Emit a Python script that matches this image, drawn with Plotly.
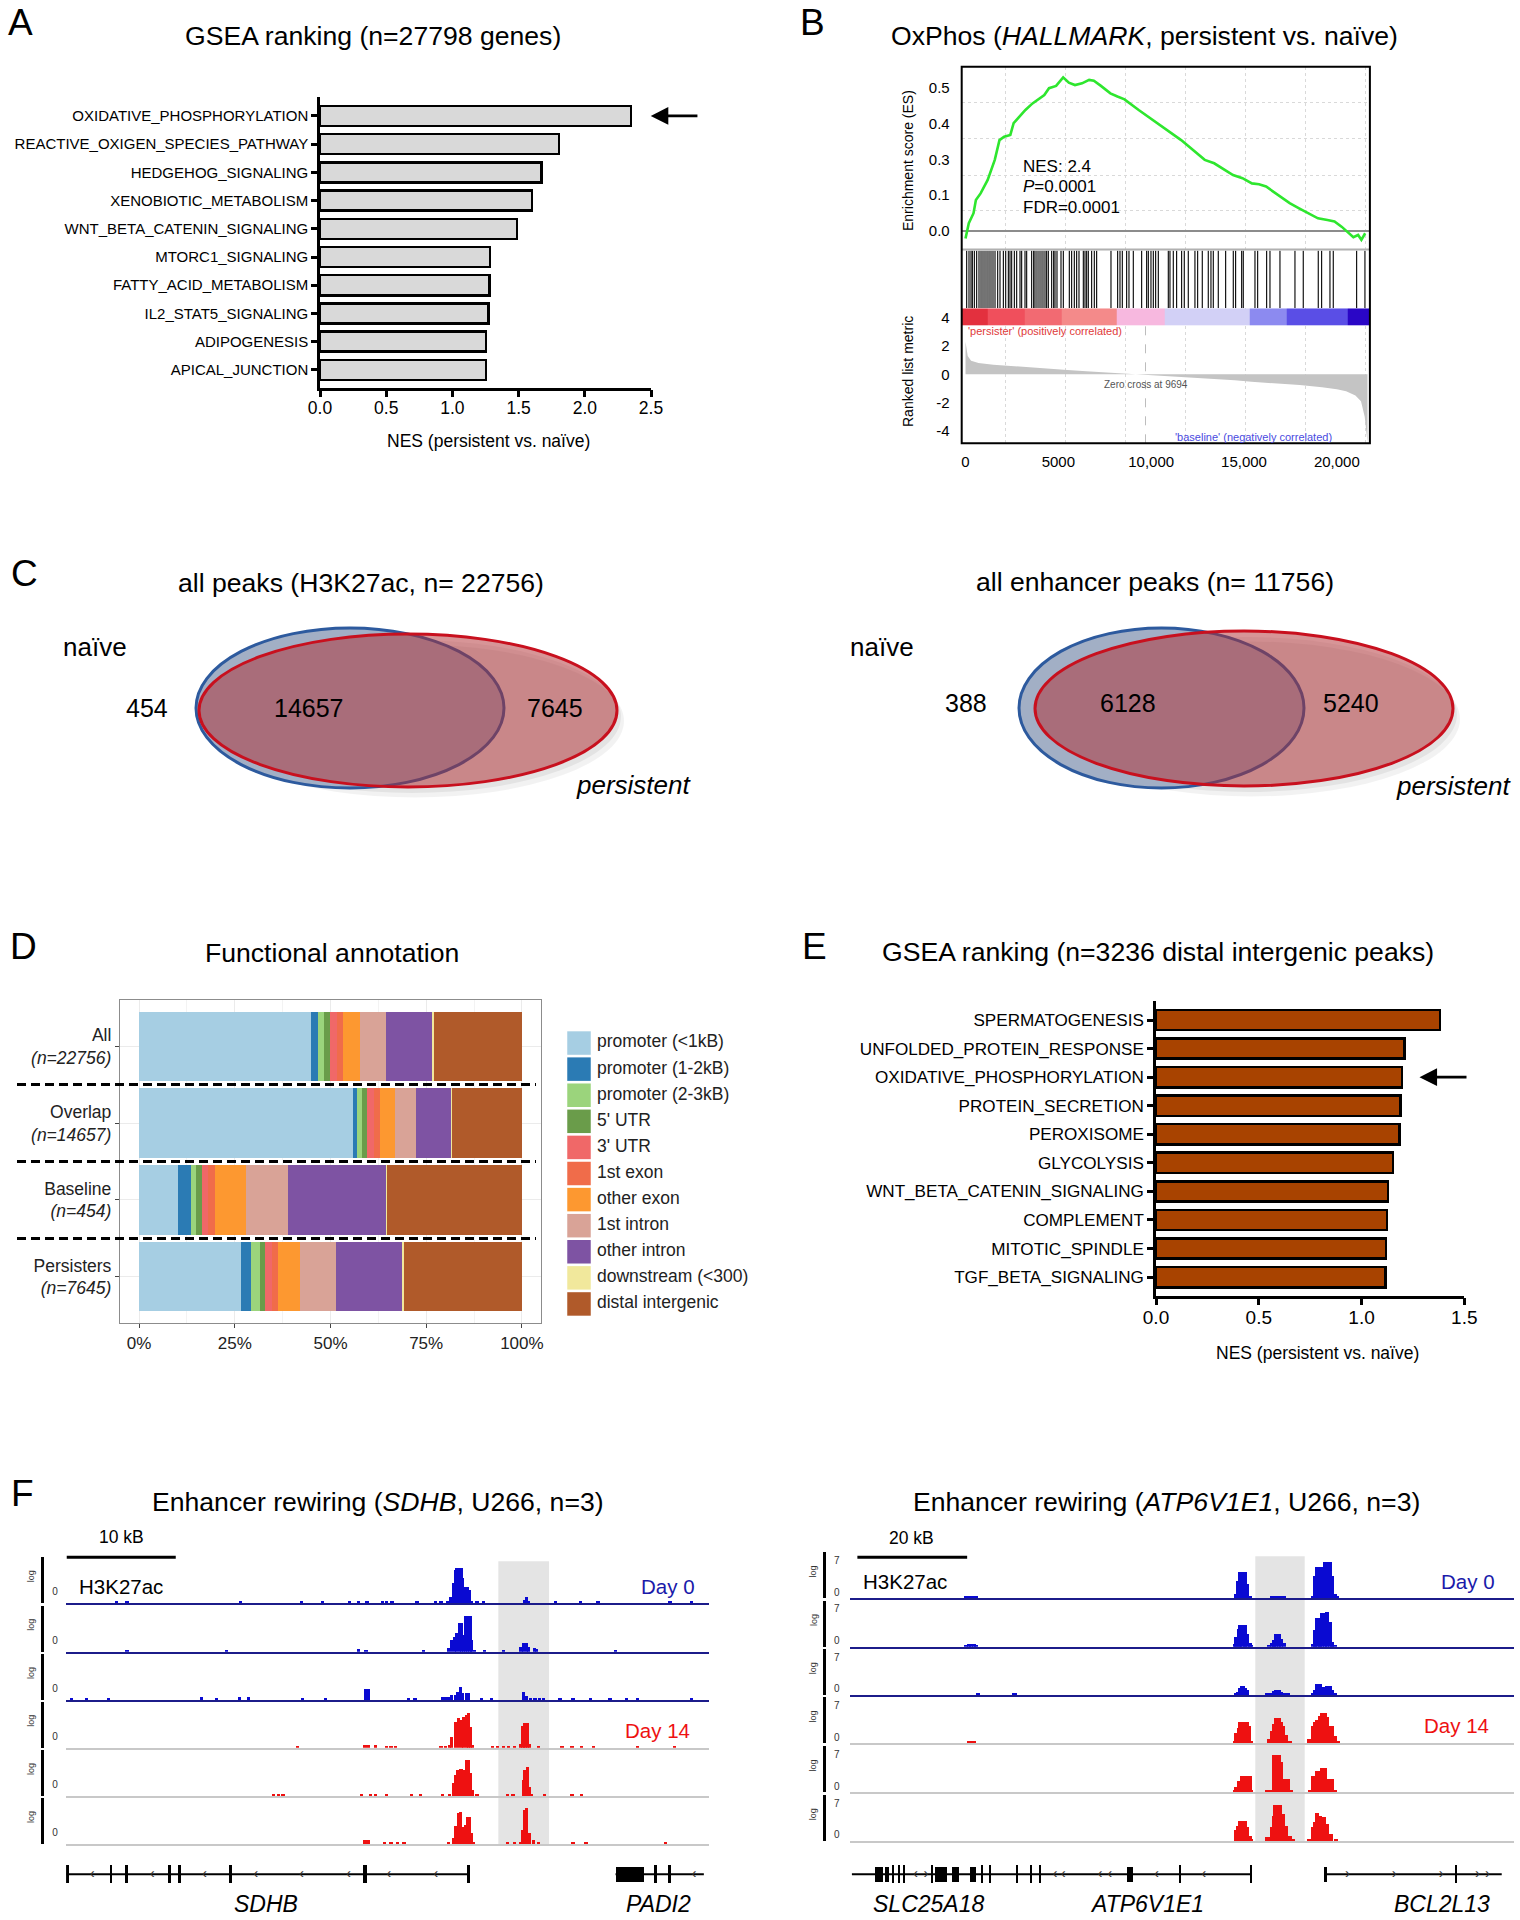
import plotly.graph_objects as go

W, H = 1520, 1920
FONT = "Liberation Sans, Arial, Helvetica, sans-serif"
NARROW = "Liberation Sans Narrow, Arial Narrow, Liberation Sans, sans-serif"
TITLE = 26.6

# ============================ DATA ============================
# --- A: GSEA ranking of genes ---
a_pathways = ["OXIDATIVE_PHOSPHORYLATION", "REACTIVE_OXIGEN_SPECIES_PATHWAY", "HEDGEHOG_SIGNALING",
              "XENOBIOTIC_METABOLISM", "WNT_BETA_CATENIN_SIGNALING", "MTORC1_SIGNALING",
              "FATTY_ACID_METABOLISM", "IL2_STAT5_SIGNALING", "ADIPOGENESIS", "APICAL_JUNCTION"]
a_nes = [2.35, 1.805, 1.673, 1.603, 1.488, 1.285, 1.282, 1.272, 1.255, 1.252]
a_xticks = [0.0, 0.5, 1.0, 1.5, 2.0, 2.5]
a_highlight = "OXIDATIVE_PHOSPHORYLATION"

# --- B: OxPhos enrichment plot ---
b_es_rank = [0, 178, 432, 559, 813, 1194, 1576, 1830, 2084, 2414, 2592, 2973, 3227, 3609, 3863, 4244,
             4498, 4879, 5260, 5565, 5896, 6277, 6658, 6912, 7294, 7802, 8183, 8564, 9327, 10343, 11614,
             12884, 13393, 14409, 14917, 15426, 15807, 16188, 16696, 17459, 17967, 18475, 18983, 19492,
             19873, 20254, 20890, 21144, 21322, 21525]
b_es_value = [-0.026, 0.027, 0.062, 0.108, 0.131, 0.178, 0.248, 0.317, 0.329, 0.335, 0.376, 0.405, 0.422,
              0.445, 0.457, 0.474, 0.498, 0.506, 0.536, 0.517, 0.509, 0.515, 0.527, 0.524, 0.506, 0.480,
              0.469, 0.459, 0.422, 0.376, 0.317, 0.248, 0.236, 0.195, 0.184, 0.166, 0.163, 0.155, 0.131,
              0.097, 0.079, 0.062, 0.044, 0.038, 0.033, 0.015, -0.022, -0.014, -0.031, -0.008]
b_hits = [63, 188, 296, 368, 476, 601, 727, 835, 942, 1050, 1158, 1266, 1373, 1481, 1589, 1733, 1858,
          2038, 2164, 2307, 2397, 2487, 2630, 2756, 2935, 3025, 3204, 3294, 3563, 3671, 3743, 3850, 3958,
          4066, 4173, 4281, 4371, 4460, 4640, 4748, 4820, 4927, 5143, 5268, 5591, 5717, 5860, 5986, 6112,
          6345, 6435, 6525, 6614, 6794, 6937, 7063, 7835, 8194, 8320, 8445, 8679, 8804, 9037, 9487, 9756,
          9846, 9989, 10115, 10241, 10384, 10922, 11012, 11191, 11371, 11640, 11783, 11998, 12357, 12503,
          12752, 13075, 13220, 13345, 13614, 14011, 14422, 14548, 14873, 14960, 15590, 15735, 16219,
          16398, 16936, 17744, 18191, 18999, 19180, 19629, 19807, 21066, 21513]
b_metric_rank = [0, 40, 120, 300, 700, 1500, 2700, 4000, 5300, 6500, 7800, 9000, 9694, 11000, 12900,
                 14500, 15400, 17000, 18000, 19200, 20000, 20500, 21000, 21300, 21500, 21650]
b_metric_value = [2.3, 1.8, 1.3, 0.95, 0.8, 0.68, 0.55, 0.45, 0.32, 0.22, 0.12, 0.05, 0.0, -0.12, -0.29,
                  -0.42, -0.52, -0.65, -0.76, -0.92, -1.05, -1.2, -1.5, -1.9, -3.0, -4.8]
b_cbar_edges = [-205, 1200, 3200, 5200, 8142, 10743, 15320, 17296, 20581, 21780]
b_cbar_values = [1.0, 0.7, 0.5, 0.3, 0.1, -0.1, -0.3, -0.6, -1.0]
b_es_ticks = [0.0, 0.125, 0.25, 0.375, 0.5]
b_es_ticklabels = ["0.0", "0.1", "0.3", "0.4", "0.5"]
b_rank_ticks = [4, 2, 0, -2, -4]
b_rank_ticklabels = ["4", "2", "0", "-2", "-4"]
b_xticks = [0, 5000, 10000, 15000, 20000]
b_xticklabels = ["0", "5000", "10,000", "15,000", "20,000"]
b_nes, b_p, b_fdr, b_zero_cross = 2.4, "0.0001", "0.0001", 9694

# --- C: Venn diagrams ---
c_titles = ["all peaks (H3K27ac, n= 22756)", "all enhancer peaks (n= 11756)"]
c_naive_only = [454, 388]
c_overlap = [14657, 6128]
c_persistent_only = [7645, 5240]

# --- D: functional annotation (% of peaks) ---
d_groups = ["All", "Overlap", "Baseline", "Persisters"]
d_group_n = [22756, 14657, 454, 7645]
d_features = ["promoter (<1kB)", "promoter (1-2kB)", "promoter (2-3kB)", "5' UTR", "3' UTR", "1st exon",
              "other exon", "1st intron", "other intron", "downstream (<300)", "distal intergenic"]
d_percent = [
    [45.0, 55.8, 10.2, 26.5],
    [1.7, 1.2, 3.3, 2.6],
    [1.7, 1.3, 1.3, 2.5],
    [1.4, 1.3, 1.6, 1.4],
    [1.8, 1.7, 1.7, 1.7],
    [1.6, 1.6, 1.6, 1.7],
    [4.4, 3.9, 8.2, 5.7],
    [7.0, 5.6, 11.0, 9.3],
    [12.0, 9.1, 25.6, 17.5],
    [0.5, 0.3, 0.3, 0.4],
    [22.9, 18.2, 35.2, 30.7],
]
d_xticks = [0, 25, 50, 75, 100]

# --- E: GSEA ranking of distal intergenic peaks ---
e_pathways = ["SPERMATOGENESIS", "UNFOLDED_PROTEIN_RESPONSE", "OXIDATIVE_PHOSPHORYLATION",
              "PROTEIN_SECRETION", "PEROXISOME", "GLYCOLYSIS", "WNT_BETA_CATENIN_SIGNALING",
              "COMPLEMENT", "MITOTIC_SPINDLE", "TGF_BETA_SIGNALING"]
e_nes = [1.381, 1.208, 1.197, 1.190, 1.185, 1.153, 1.128, 1.123, 1.119, 1.116]
e_xticks = [0.0, 0.5, 1.0, 1.5]
e_highlight = "OXIDATIVE_PHOSPHORYLATION"

# --- F: H3K27ac tracks (position kb, log signal) ---
f_left_tracks = [  # SDHB locus; Day 0 x3 then Day 14 x3
    ([4.65, 5.6, 16.0, 21.6, 23.5, 26.0, 26.8, 27.6, 29.0, 29.4, 29.9, 32.2, 33.9, 34.4, 35.0, 35.29, 35.53,
      35.69, 35.84, 36.06, 36.3, 36.39, 36.61, 36.82, 37.0, 37.22, 37.7, 38.3, 42.1, 42.25, 42.4, 44.9, 47.2,
      48.8, 55.4, 57.4],
     [0.08, 0.08, 0.07, 0.07, 0.07, 0.07, 0.08, 0.12, 0.07, 0.07, 0.07, 0.07, 0.08, 0.08, 0.08, 0.29, 0.87,
      1.45, 1.52, 1.52, 1.52, 1.09, 0.72, 0.72, 0.58, 0.07, 0.07, 0.07, 0.15, 0.26, 0.12, 0.07, 0.07, 0.07,
      0.07, 0.07]),
    ([5.6, 14.7, 26.8, 27.5, 32.8, 35.08, 35.38, 35.6, 35.84, 36.06, 36.24, 36.45, 36.61, 36.82, 37.06,
      37.22, 37.43, 38.4, 40.1, 41.74, 41.96, 42.2, 42.42, 42.94, 43.18, 50.4],
     [0.08, 0.08, 0.12, 0.08, 0.08, 0.14, 0.51, 0.65, 0.8, 1.23, 1.26, 0.72, 1.55, 1.55, 1.55, 0.51, 0.07,
      0.08, 0.08, 0.2, 0.39, 0.39, 0.2, 0.14, 0.1, 0.08]),
    ([0.5, 1.9, 3.9, 12.4, 13.8, 15.9, 16.7, 21.7, 23.8, 27.5, 27.7, 31.4, 32.0, 34.56, 34.8, 35.08, 35.38,
      35.69, 35.9, 36.15, 36.39, 36.7, 36.94, 38.1, 39.05, 41.96, 42.2, 42.6, 43.0, 43.4, 43.8, 45.3, 46.5,
      48.1, 49.9, 51.4, 52.4, 57.4],
     [0.08, 0.08, 0.08, 0.15, 0.08, 0.15, 0.15, 0.08, 0.08, 0.48, 0.48, 0.08, 0.08, 0.14, 0.14, 0.14, 0.22,
      0.22, 0.36, 0.58, 0.29, 0.29, 0.29, 0.08, 0.08, 0.36, 0.17, 0.07, 0.07, 0.07, 0.07, 0.1, 0.08, 0.08,
      0.08, 0.08, 0.08, 0.08]),
    ([21.2, 27.4, 27.7, 28.4, 29.4, 29.8, 30.2, 34.4, 34.8, 35.2, 35.38, 35.69, 36.0, 36.24, 36.45, 36.7,
      36.91, 37.12, 37.3, 39.1, 39.6, 40.1, 40.6, 41.1, 41.65, 41.9, 42.1, 42.32, 42.5, 43.3, 45.5, 46.4,
      47.3, 48.4, 52.4, 55.8],
     [0.07, 0.1, 0.1, 0.12, 0.07, 0.07, 0.07, 0.07, 0.07, 0.1, 0.48, 1.13, 1.28, 1.2, 1.32, 1.42, 1.49, 0.9,
      0.1, 0.07, 0.07, 0.07, 0.07, 0.07, 0.16, 0.94, 1.09, 1.09, 0.16, 0.07, 0.07, 0.07, 0.07, 0.07, 0.07,
      0.07]),
    ([19.0, 19.5, 19.9, 27.1, 27.9, 28.4, 29.4, 31.7, 32.5, 34.5, 35.17, 35.53, 35.75, 35.9, 36.15, 36.3,
      36.51, 36.7, 36.91, 37.06, 37.31, 37.68, 40.5, 41.0, 41.96, 42.1, 42.32, 42.5, 42.7, 43.9, 46.4, 47.3],
     [0.07, 0.07, 0.07, 0.1, 0.07, 0.07, 0.07, 0.07, 0.07, 0.07, 0.09, 0.55, 0.9, 1.13, 1.16, 1.16, 1.13,
      1.57, 1.57, 0.99, 0.26, 0.07, 0.1, 0.1, 0.7, 1.13, 1.25, 0.41, 0.09, 0.07, 0.07, 0.07]),
    ([27.4, 27.7, 29.2, 29.8, 30.4, 31.0, 35.08, 35.53, 35.75, 35.99, 36.21, 36.39, 36.61, 36.82, 37.0,
      37.16, 37.37, 40.5, 41.1, 41.7, 41.9, 42.05, 42.26, 42.5, 42.85, 43.3, 46.5, 47.7, 55.0],
     [0.17, 0.17, 0.07, 0.07, 0.07, 0.07, 0.1, 0.25, 0.8, 1.33, 1.41, 0.75, 0.83, 1.19, 1.19, 0.46, 0.1,
      0.1, 0.1, 0.1, 0.61, 1.48, 1.55, 0.46, 0.17, 0.1, 0.07, 0.07, 0.07]),
]
f_right_tracks = [  # ATP6V1E1 locus; Day 0 x3 then Day 14 x3
    ([21.2, 21.7, 22.1, 22.6, 23.0, 70.4, 70.7, 71.1, 71.6, 72.0, 72.4, 72.9, 76.9, 77.3, 77.7, 78.2, 78.6,
      79.1, 84.4, 84.8, 85.2, 85.7, 86.1, 86.6, 87.0, 87.5, 87.9, 88.3, 88.8],
     [0.3, 0.5, 0.5, 0.5, 0.3, 0.8, 3.2, 4.75, 4.75, 4.75, 2.6, 0.4, 0.2, 0.5, 0.5, 0.5, 0.5, 0.3, 0.5, 4.1,
      5.7, 5.7, 5.7, 6.7, 6.7, 6.7, 4.1, 0.8, 0.2]),
    ([21.2, 21.7, 22.1, 22.6, 23.0, 70.2, 70.4, 70.9, 71.1, 71.6, 72.0, 72.4, 72.9, 73.1, 76.4, 76.9, 77.3,
      77.7, 78.2, 78.6, 79.1, 84.4, 84.8, 85.2, 85.7, 86.1, 86.6, 87.0, 87.5, 87.9, 88.3],
     [0.3, 0.55, 0.55, 0.55, 0.3, 0.5, 1.8, 3.2, 4.0, 4.0, 4.0, 2.4, 0.6, 0.2, 0.3, 0.6, 1.2, 2.4, 2.4, 1.4,
      0.7, 0.5, 3.0, 5.2, 5.2, 6.1, 6.1, 6.4, 4.6, 0.9, 0.2]),
    ([23.4, 30.0, 70.4, 70.7, 71.1, 71.6, 72.0, 72.4, 76.0, 76.4, 76.9, 77.3, 77.7, 78.2, 78.6, 79.1, 79.9,
      84.4, 84.8, 85.2, 85.7, 86.1, 86.6, 87.0, 87.5, 87.9, 88.3],
     [0.3, 0.3, 0.3, 0.6, 1.2, 1.7, 1.2, 0.9, 0.2, 0.2, 0.2, 0.7, 1.0, 1.0, 0.6, 0.2, 0.2, 0.3, 0.9, 2.0,
      2.0, 1.4, 1.4, 1.6, 1.6, 0.9, 0.3]),
    ([21.7, 22.1, 22.6, 70.2, 70.4, 70.9, 71.1, 71.6, 72.0, 72.4, 72.7, 73.1, 76.4, 76.9, 77.3, 77.7, 78.2,
      78.6, 78.9, 79.5, 80.2, 83.7, 84.4, 84.8, 85.2, 85.7, 86.1, 86.6, 87.0, 87.5, 87.9, 88.4, 89.0],
     [0.25, 0.25, 0.25, 0.5, 1.9, 2.8, 3.8, 3.8, 3.8, 3.8, 3.1, 0.4, 0.7, 2.2, 3.5, 4.6, 4.6, 3.8, 3.1, 1.6,
      0.4, 0.7, 3.1, 3.8, 4.3, 5.0, 5.5, 5.5, 4.8, 3.1, 3.1, 1.3, 0.4]),
    ([70.2, 70.4, 70.9, 71.1, 71.6, 72.0, 72.4, 72.9, 73.1, 76.0, 76.4, 76.9, 77.3, 77.7, 78.2, 78.6, 79.2,
      79.5, 79.9, 80.4, 83.9, 84.4, 84.8, 85.2, 85.7, 86.1, 86.6, 87.0, 87.5, 87.9, 88.3],
     [0.5, 1.0, 2.1, 2.1, 3.0, 3.0, 3.0, 3.0, 0.2, 0.4, 0.4, 0.4, 6.8, 6.8, 6.8, 5.6, 2.4, 2.4, 2.4, 0.2,
      0.25, 2.9, 2.9, 3.8, 3.8, 4.4, 4.4, 2.5, 2.5, 2.5, 0.3]),
    ([70.4, 70.7, 71.1, 71.6, 71.9, 72.4, 72.9, 73.1, 76.0, 76.4, 76.9, 77.3, 77.5, 78.0, 78.4, 78.9, 79.5,
      80.2, 80.8, 83.7, 84.4, 84.8, 85.1, 85.7, 86.3, 87.0, 87.7, 88.6],
     [2.0, 2.8, 3.7, 3.7, 3.7, 2.5, 1.0, 0.2, 0.7, 0.7, 2.5, 4.5, 6.6, 6.6, 6.6, 4.9, 2.8, 1.0, 0.2, 0.4,
      2.5, 3.5, 5.2, 4.6, 4.4, 3.1, 1.3, 0.3]),
]
f_left_gene_names = ["SDHB", "PADI2"]
f_left_gene_spans = [(0.06, 36.95), (50.4, 58.5)]
f_left_exons = [(0.0, 0.3), (4.0, 4.25), (5.45, 5.7), (9.35, 9.6), (10.3, 10.55), (14.95, 15.2),
                (27.2, 27.6), (36.8, 37.05), (53.95, 54.2), (55.2, 55.45)]
f_left_blocks = [(50.4, 53.0)]
f_left_minus_arrows = [2.4, 7.9, 12.7, 17.4, 21.6, 25.9, 29.6, 33.9, 57.6]
f_left_plus_arrows = []
f_left_label_kb = [18.3, 54.3]
f_left_enhancer = (39.65, 44.3)

f_right_gene_names = ["SLC25A18", "ATP6V1E1", "BCL2L13"]
f_right_gene_spans = [(0.4, 73.1), (86.6, 118.8)]
f_right_exons = [(7.8, 8.0), (8.8, 9.0), (9.7, 9.9), (14.8, 15.0), (24.0, 24.25), (25.5, 25.75),
                 (30.3, 30.55), (32.8, 33.05), (34.5, 34.75), (60.0, 60.35), (72.9, 73.2), (110.2, 110.6)]
f_right_blocks = [(4.6, 6.0), (6.4, 7.2), (15.5, 17.7), (18.6, 20.0), (21.9, 23.0), (50.5, 51.7),
                  (86.4, 87.0)]
f_right_minus_arrows = [12.0, 37.4, 38.9, 45.6, 47.4, 55.9, 64.5]
f_right_plus_arrows = [13.9, 90.7, 99.2, 107.8, 114.4, 116.2]
f_right_label_kb = [14.4, 54.2, 107.9]
f_right_enhancer = (73.9, 82.9)

# ============================ HELPERS ============================
def px(x):
    return x / W


def py(y):
    return 1 - y / H


layout = dict(width=W, height=H, margin=dict(l=0, r=0, t=0, b=0, pad=0, autoexpand=False),
              paper_bgcolor="white", plot_bgcolor="rgba(0,0,0,0)", showlegend=False, barmode="stack",
              font=dict(family=FONT, color="black"))
annotations, shapes, traces = [], [], []
n_axes = [0]


def base_axis(**kw):
    d = dict(showgrid=False, zeroline=False, showticklabels=False, showline=False, ticks="",
             fixedrange=True, automargin=False)
    d.update(kw)
    return d


def new_axes(x0, x1, y0, y1, xa, ya):
    n_axes[0] += 1
    s = "" if n_axes[0] == 1 else str(n_axes[0])
    xa = dict(xa)
    ya = dict(ya)
    xa["domain"] = [px(x0), px(x1)]
    xa.setdefault("anchor", "y" + s)
    ya["domain"] = [py(y1), py(y0)]
    ya.setdefault("anchor", "x" + s)
    layout["xaxis" + s] = xa
    layout["yaxis" + s] = ya
    return "x" + s, "y" + s


def txt(x, y, s, size, color="black", xanchor="center", yanchor="middle", angle=0, family=FONT,
        xref="paper", yref="paper"):
    annotations.append(dict(x=px(x) if xref == "paper" else x, y=py(y) if yref == "paper" else y,
                            text=s, showarrow=False, xref=xref, yref=yref, xanchor=xanchor,
                            yanchor=yanchor, textangle=angle,
                            font=dict(size=size, color=color, family=family)))


# panel letters
for letter, (lx, ly) in zip("ABCDEF", [(20, 22), (812, 22), (24, 573), (23, 947), (814, 946), (22, 1493)]):
    txt(lx, ly, letter, 37)

# ============================ PANEL A / E (bar rankings) ============================
def gsea_bars(x0, x1, y0, y1, names, values, ticks, rng_y, label_size, tick_size, color, highlight,
              arrow_tip, arrow_tail):
    xa = base_axis(range=[ticks[0], ticks[-1]], showline=True, linecolor="black", linewidth=2.5,
                   ticks="outside", ticklen=7, tickwidth=2.5, tickcolor="black", showticklabels=True,
                   tickvals=ticks, tickformat=".1f", tickfont=dict(size=tick_size), ticklabelstandoff=-4)
    ya = base_axis(type="category", categoryorder="array", categoryarray=names, range=rng_y,
                   showline=True, linecolor="black", linewidth=2.5, ticks="outside", ticklen=6,
                   tickwidth=2.5, tickcolor="black", showticklabels=True, tickfont=dict(size=label_size))
    xr, yr = new_axes(x0, x1, y0, y1, xa, ya)
    traces.append(go.Bar(x=values, y=names, orientation="h", width=0.71,
                         marker=dict(color=color, line=dict(color="black", width=2.5)),
                         xaxis=xr, yaxis=yr, hoverinfo="x+y"))
    annotations.append(dict(x=arrow_tip, y=highlight, xref=xr, yref=yr, ax=arrow_tail, ay=0,
                            axref=xr, ayref="pixel", showarrow=True, arrowhead=2, arrowsize=1.35,
                            arrowwidth=2.6, arrowcolor="black", text=""))
    return xr, yr


gsea_bars(320, 651, 96.7, 387.7, a_pathways, a_nes, a_xticks, [9.63, -0.68], 15, 17.5, "#d9d9d9",
          a_highlight, 2.498, 2.862)
txt(373, 36, "GSEA ranking (n=27798 genes)", TITLE)
txt(489, 441, "NES (persistent vs. naïve)", 17.5)

# ============================ PANEL B ============================
BX = [-205, 21780]
BL, BR = 961.7, 1369.9
grid = dict(showgrid=True, gridcolor="#d9d9d9", griddash="dot", gridwidth=1)
xa = base_axis(range=BX, tick0=2150, dtick=3230, **grid)
ya = base_axis(range=[-0.064, 0.573], tickvals=b_es_ticks, ticktext=b_es_ticklabels, showticklabels=True,
               tickfont=dict(size=15), ticks="outside", ticklen=8, tickcolor="rgba(0,0,0,0)",
               zeroline=True, zerolinecolor="#8c8c8c", zerolinewidth=1.5,
               minor=dict(tickvals=[0.07, 0.195, 0.321, 0.447], **grid))
xES, yES = new_axes(BL, BR, 66.7, 249.3, xa, ya)
traces.append(go.Scatter(x=b_es_rank, y=b_es_value, mode="lines", line=dict(color="#2ee62e", width=2.6),
                         xaxis=xES, yaxis=yES, hoverinfo="x+y"))

xa = base_axis(range=BX)
ya = base_axis(range=[0, 1])
xHT, yHT = new_axes(BL, BR, 250.5, 308.3, xa, ya)
hx, hy = [], []
for h in b_hits:
    hx += [h, h, None]
    hy += [0, 1, None]
traces.append(go.Scatter(x=hx, y=hy, mode="lines", line=dict(color="black", width=1.1),
                         xaxis=xHT, yaxis=yHT, hoverinfo="skip"))

xa = base_axis(range=BX, tickvals=b_xticks, ticktext=b_xticklabels, showticklabels=True,
               tickfont=dict(size=15), ticks="outside", ticklen=5, tickcolor="rgba(0,0,0,0)",
               minor=dict(tick0=2150, dtick=3230, **grid))
ya = base_axis(range=[-4.87, 4.66], tickvals=b_rank_ticks, ticktext=b_rank_ticklabels,
               showticklabels=True, tickfont=dict(size=15), ticks="outside", ticklen=8,
               tickcolor="rgba(0,0,0,0)")
xRK, yRK = new_axes(BL, BR, 308.3, 443.3, xa, ya)
traces.append(go.Scatter(x=b_metric_rank, y=b_metric_value, mode="lines", fill="tozeroy",
                         fillcolor="#c4c4c4", line=dict(width=0, color="#c4c4c4"),
                         xaxis=xRK, yaxis=yRK, hoverinfo="x+y"))
traces.append(go.Heatmap(x=b_cbar_edges, y=[3.48, 4.66], z=[b_cbar_values], zmin=-1, zmax=1,
                         colorscale=[[0.0, "#2a06c6"], [0.2, "#5a4ee6"], [0.35, "#8c8af0"],
                                     [0.45, "#d2d0f6"], [0.55, "#f7b8df"], [0.65, "#f48a8a"],
                                     [0.75, "#f26a72"], [0.85, "#f04f5c"], [1.0, "#e3303e"]],
                         showscale=False, xaxis=xRK, yaxis=yRK, hoverinfo="skip"))
shapes.append(dict(type="line", xref=xRK, yref=yRK, x0=b_zero_cross, x1=b_zero_cross, y0=-4.87, y1=3.48,
                   line=dict(color="#bdbdbd", width=1, dash="dash")))
shapes.append(dict(type="line", xref="paper", yref="paper", x0=px(BL), x1=px(BR), y0=py(249.6),
                   y1=py(249.6), line=dict(color="#b0b0b0", width=2)))
shapes.append(dict(type="rect", xref="paper", yref="paper", x0=px(BL), x1=px(BR), y0=py(443.3),
                   y1=py(66.7), line=dict(color="black", width=2), fillcolor="rgba(0,0,0,0)"))
txt(1144, 36, "OxPhos (<i>HALLMARK</i>, persistent vs. naïve)", TITLE)
txt(908, 161, "Enrichment score (ES)", 14, angle=-90)
txt(908, 372, "Ranked list metric", 14, angle=-90)
txt(1020.7, 166.7, "NES: %s" % b_nes, 17, xanchor="left")
txt(1020.7, 186.7, "<i>P</i>=%s" % b_p, 17, xanchor="left")
txt(1020.7, 207.3, "FDR=%s" % b_fdr, 17, xanchor="left")
txt(b_zero_cross, -0.75, "Zero cross at %d" % b_zero_cross, 10, color="#555555", family=NARROW,
    xref=xRK, yref=yRK)
txt(0, 3.08, "'persister' (positively correlated)", 11, color="#e03a3a", xanchor="left", family=NARROW,
    xref=xRK, yref=yRK)
txt(15500, -4.42, "'baseline' (negatively correlated)", 11, color="#4a4ae0", family=NARROW,
    xref=xRK, yref=yRK)

# ============================ PANEL C ============================
venn_geo = [
    dict(box=(0, 760), blue=(196, 504, 628, 788), red=(199, 617, 634, 787), title=(361, 583),
         naive=(95, 647), a=(147, 708), ab=(309, 708), b=(555, 708), pers=(633, 785)),
    dict(box=(760, 1520), blue=(1019, 1304, 628, 788), red=(1035, 1453, 631, 786), title=(1155, 582),
         naive=(882, 647), a=(966, 703), ab=(1128, 703), b=(1351, 703), pers=(1453, 786)),
]
for i, g in enumerate(venn_geo):
    bx0, bx1 = g["box"]
    xa = base_axis(range=[bx0, bx1])
    ya = base_axis(range=[830, 600])
    xv, yv = new_axes(bx0, bx1, 600, 830, xa, ya)
    rx0, rx1, ry0, ry1 = g["red"]
    for off, alpha in [(7, 0.05), (4, 0.06)]:
        shapes.append(dict(type="circle", xref=xv, yref=yv, x0=rx0 + off, x1=rx1 + off, y0=ry0 + off * 1.5,
                           y1=ry1 + off * 1.5, fillcolor="rgba(0,0,0,%s)" % alpha, line=dict(width=0)))
    x0, x1, y0, y1 = g["blue"]
    shapes.append(dict(type="circle", xref=xv, yref=yv, x0=x0, x1=x1, y0=y0, y1=y1, fillcolor="#a2afc5",
                       line=dict(color="#2d5a9e", width=3)))
    shapes.append(dict(type="circle", xref=xv, yref=yv, x0=rx0, x1=rx1, y0=ry0, y1=ry1,
                       fillcolor="rgba(175,43,47,0.5)", line=dict(color="#c8101e", width=3)))
    txt(*g["title"], c_titles[i], TITLE)
    txt(*g["naive"], "naïve", 26)
    txt(*g["a"], str(c_naive_only[i]), 25)
    txt(*g["ab"], str(c_overlap[i]), 25)
    txt(*g["b"], str(c_persistent_only[i]), 25)
    txt(*g["pers"], "<i>persistent</i>", 26)

# ============================ PANEL D ============================
d_colors = ["#a6cee3", "#2b7bb4", "#9bd47c", "#6a9c4a", "#f06868", "#f06c4a", "#fd9830", "#d9a397",
            "#7e53a3", "#f1e89c", "#b05a2a"]
d_labels = ["%s<br><i>(n=%d)</i>" % (g, n) for g, n in zip(d_groups, d_group_n)]
xa = base_axis(range=[-5, 105], tickvals=d_xticks, ticktext=["%d%%" % t for t in d_xticks],
               showticklabels=True, tickfont=dict(size=17, color="#222222"), ticks="outside", ticklen=4,
               tickcolor="#444444", showgrid=True, gridcolor="#ebebeb", showline=True, mirror=True,
               linecolor="#8c8c8c", linewidth=1.3,
               minor=dict(tickvals=[12.5, 37.5, 62.5, 87.5], showgrid=True, gridcolor="#f3f3f3"))
ya = base_axis(type="category", categoryorder="array", categoryarray=d_labels, range=[3.6, -0.6],
               showticklabels=True, tickfont=dict(size=17.5, color="#222222"), ticks="outside", ticklen=4,
               tickcolor="#444444", showgrid=True, gridcolor="#ebebeb", showline=True, mirror=True,
               linecolor="#8c8c8c", linewidth=1.3)
xD, yD = new_axes(120, 541, 1000, 1323, xa, ya)
for feat, vals, col in zip(d_features, d_percent, d_colors):
    traces.append(go.Bar(x=vals, y=d_labels, orientation="h", width=0.9, name=feat,
                         marker=dict(color=col, line=dict(width=0)), xaxis=xD, yaxis=yD))
for yy in [0.5, 1.5, 2.5]:
    shapes.append(dict(type="line", xref="paper", yref=yD, x0=px(17), x1=px(536), y0=yy, y1=yy,
                       line=dict(color="black", width=3, dash="9px,5px")))
# legend
xa = base_axis(range=[0, 193])
ya = base_axis(range=[10.5, -0.5])
xL, yL = new_axes(567, 760, 1030, 1317, xa, ya)
traces.append(go.Scatter(x=[12] * len(d_features), y=list(range(len(d_features))), mode="markers",
                         marker=dict(symbol="square", size=23.5, color=d_colors, line=dict(width=0)),
                         xaxis=xL, yaxis=yL, hoverinfo="skip"))
traces.append(go.Scatter(x=[30] * len(d_features), y=list(range(len(d_features))), mode="text",
                         text=d_features, textposition="middle right",
                         textfont=dict(size=17.5, color="#222222", family=FONT),
                         xaxis=xL, yaxis=yL, hoverinfo="skip"))
txt(332, 953, "Functional annotation", TITLE)

# ============================ PANEL E ============================
gsea_bars(1156, 1464.3, 1001, 1295.7, e_pathways, e_nes, e_xticks, [9.65, -0.665], 17.1, 19, "#a84300",
          e_highlight, 1.282, 1.518)
txt(1158, 952, "GSEA ranking (n=3236 distal intergenic peaks)", TITLE)
txt(1317, 1353, "NES (persistent vs. naïve)", 17.5)

# ============================ PANEL F ============================
def locus(tracks, xdom, xmax, baselines, ymax, ytickvals, yticktext, axis_x, log_x, bar_w, scale_kb,
          scale_x0, enhancer, gene_spans, exons, blocks, minus_arrows, plus_arrows, gene_names, label_kb):
    first_x = None
    for k, (tx, ty) in enumerate(tracks):
        base = baselines[k]
        day0 = k < 3
        xa = base_axis(range=[0, xmax], showline=True, linewidth=2,
                       linecolor="#1c1c8a" if day0 else "#c8c8c8")
        ya = base_axis(range=[0, ymax], anchor="free", position=px(axis_x), showline=True, linewidth=3,
                       linecolor="black", tickvals=ytickvals, ticktext=yticktext, showticklabels=True,
                       ticklabelposition="inside", ticklabelstandoff=7,
                       tickfont=dict(size=10, color="#333333"))
        xt, yt = new_axes(xdom[0], xdom[1], base - 46, base, xa, ya)
        if first_x is None:
            first_x = xt
        traces.append(go.Bar(x=tx, y=ty, width=bar_w, marker=dict(color="#0a0ad2" if day0 else "#ee1111",
                                                                  line=dict(width=0)),
                             xaxis=xt, yaxis=yt, hoverinfo="x+y"))
        txt(log_x, base - 27, "log", 9, color="#333333", angle=-90)
    shapes.append(dict(type="rect", xref=first_x, yref="paper", x0=enhancer[0], x1=enhancer[1],
                       y0=py(baselines[-1] + 2), y1=py(baselines[0] - 42), fillcolor="#e4e4e4",
                       line=dict(width=0), layer="below"))
    shapes.append(dict(type="line", xref=first_x, yref="paper", x0=scale_x0, x1=scale_x0 + scale_kb,
                       y0=py(1557.3), y1=py(1557.3), line=dict(color="black", width=3)))
    xa = base_axis(range=[0, xmax])
    ya = base_axis(range=[-1, 1])
    xg, yg = new_axes(xdom[0], xdom[1], 1856.3, 1892.3, xa, ya)
    gx, gy = [], []
    for s, e in gene_spans:
        gx += [s, e, None]
        gy += [0, 0, None]
    traces.append(go.Scatter(x=gx, y=gy, mode="lines", line=dict(color="black", width=2),
                             xaxis=xg, yaxis=yg, hoverinfo="skip"))
    ex = [(s + e) / 2 for s, e in exons] + [(s + e) / 2 for s, e in blocks]
    ew = [e - s for s, e in exons] + [e - s for s, e in blocks]
    eh = [1.0] * len(exons) + [0.8] * len(blocks)
    traces.append(go.Bar(x=ex, y=eh, base=[-h / 2 for h in eh], width=ew,
                         marker=dict(color="black", line=dict(width=0)), xaxis=xg, yaxis=yg,
                         hoverinfo="skip"))
    if minus_arrows:
        traces.append(go.Scatter(x=minus_arrows, y=[0] * len(minus_arrows), mode="text",
                                 text=["‹"] * len(minus_arrows), textfont=dict(size=15, color="#333333"),
                                 xaxis=xg, yaxis=yg, hoverinfo="skip"))
    if plus_arrows:
        traces.append(go.Scatter(x=plus_arrows, y=[0] * len(plus_arrows), mode="text",
                                 text=["›"] * len(plus_arrows), textfont=dict(size=15, color="#333333"),
                                 xaxis=xg, yaxis=yg, hoverinfo="skip"))
    for name, kb in zip(gene_names, label_kb):
        annotations.append(dict(x=kb, y=py(1904), xref=xg, yref="paper", text="<i>%s</i>" % name,
                                showarrow=False, font=dict(size=23, family=FONT, color="black"),
                                xanchor="center", yanchor="middle"))


locus(f_left_tracks, (66.07, 709.3), 59.0, [1603.3, 1651.7, 1700, 1747.7, 1796, 1844], 2.0, [0.5, 1.91],
      ["0", "2"], 42.3, 31, 0.3, 10, 0.06, f_left_enhancer, f_left_gene_spans, f_left_exons,
      f_left_blocks, f_left_minus_arrows, f_left_plus_arrows, f_left_gene_names, f_left_label_kb)
locus(f_right_tracks, (849.7, 1513.8), 121.0, [1598.3, 1646.7, 1695, 1743.3, 1792.3, 1841], 8.4,
      [1.1, 6.9], ["0", "7"], 824, 813.3, 0.8, 20, 1.4, f_right_enhancer, f_right_gene_spans,
      f_right_exons, f_right_blocks, f_right_minus_arrows, f_right_plus_arrows, f_right_gene_names,
      f_right_label_kb)

txt(378, 1501.7, "Enhancer rewiring (<i>SDHB</i>, U266, n=3)", TITLE)
txt(1166, 1501.7, "Enhancer rewiring (<i>ATP6V1E1</i>, U266, n=3)", TITLE)
txt(121.5, 1537, "10 kB", 17.5)
txt(911, 1538, "20 kB", 17.5)
txt(77.3, 1586, "H3K27ac", 20.5, xanchor="left")
txt(860.7, 1581, "H3K27ac", 20.5, xanchor="left")
txt(696.7, 1586, "Day 0", 20.5, color="#1a1aaa", xanchor="right")
txt(1496.8, 1581, "Day 0", 20.5, color="#1a1aaa", xanchor="right")
txt(691.7, 1730, "Day 14", 20.5, color="#ee1111", xanchor="right")
txt(1491, 1725, "Day 14", 20.5, color="#ee1111", xanchor="right")

layout["annotations"] = annotations
layout["shapes"] = shapes
fig = go.Figure(data=traces, layout=layout)
fig.write_html("out.html", config={"displayModeBar": False},
               post_script="document.body.style.margin='0px';document.body.style.overflow='hidden';")
